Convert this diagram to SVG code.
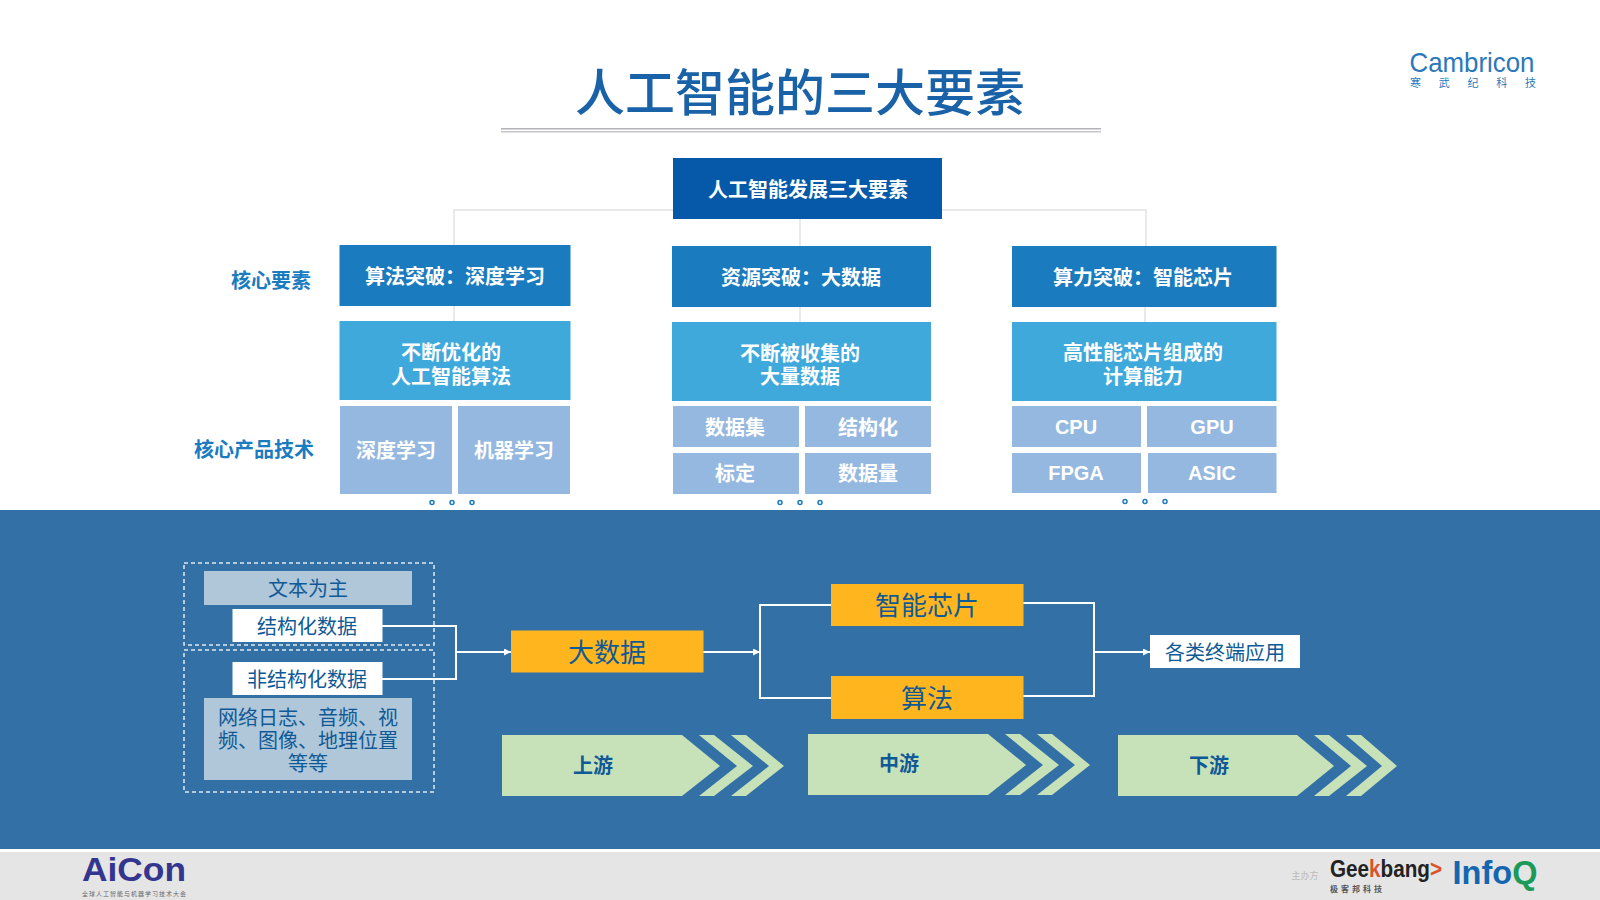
<svg xmlns="http://www.w3.org/2000/svg" width="1600" height="900" viewBox="0 0 1600 900">
<defs>
<style>
text{font-family:"Noto Sans CJK SC","Liberation Sans",sans-serif;text-anchor:middle}
text.lat{font-family:"Liberation Sans",Arial,sans-serif}
.w{fill:#fff;font-weight:700;font-size:20px}
.b1{fill:#1a7bbf}.b2{fill:#3fa9dc}.b3{fill:#95b8e0}
.side{fill:#1a7bbf;font-weight:700;font-size:20px}
.dot{fill:none;stroke:#1a7bbf;stroke-width:1.5}
.dash{fill:none;stroke:#dfe8f0;stroke-width:1.5;stroke-dasharray:4 3}
.pale{fill:#b0c7d9}.wh{fill:#fff}
.dk{fill:#0f5a96;font-size:20px}
.or{fill:#ffb61e}.ort{fill:#0f5a96;font-size:26px}
.gr{fill:#c7e2b9}.grt{fill:#0f5a96;font-size:20px;font-weight:700}
.tree{fill:none;stroke:#e2e2e2;stroke-width:1.5}
.flow{fill:none;stroke:#fff;stroke-width:2}
</style>
<marker id="arr" markerWidth="9" markerHeight="8" refX="7" refY="3.500" orient="auto" markerUnits="userSpaceOnUse"><path d="M0,0L7,3.500L0,7Z" fill="#fff"/></marker>
</defs>
<rect width="1600" height="900" fill="#fff"/>
<rect id="band" y="510" width="1600" height="339" fill="#3370a6"/>
<rect id="footer" y="852" width="1600" height="48" fill="#e5e5e5"/>

<g id="title">
<text x="800" y="111" font-size="50" fill="#1a62a8" font-weight="500">人工智能的三大要素</text>
<rect x="501" y="128" width="600" height="1.500" fill="#b4b4b8"/>
<rect x="501" y="131" width="600" height="1.500" fill="#c6c6ca"/>
</g>

<g id="logo-cambricon">
<text class="lat" x="1472" y="71.500" font-size="28" fill="#2a78bb" textLength="125" lengthAdjust="spacingAndGlyphs">Cambricon</text>
<text x="1473" y="87" font-size="11" fill="#2a78bb" textLength="126">寒武纪科技</text>
</g>

<g id="connectors">
<path class="tree" d="M454,245V210H1146V246M800,218V246M454,306V321M800,307V322M1145,307V322"/>
<path class="flow" d="M382,626H456V679H382"/>
<path class="flow" marker-end="url(#arr)" d="M456,652H511"/>
<path class="flow" marker-end="url(#arr)" d="M703,652H760"/>
<path class="flow" d="M831,605H760V698H831"/>
<path class="flow" d="M1023,603H1094V696H1023"/>
<path class="flow" marker-end="url(#arr)" d="M1094,652H1150"/>
</g>

<g id="root"><rect x="673" y="158" width="269" height="61" fill="#0559a8"/><text class="w" x="808" y="197">人工智能发展三大要素</text></g>

<g id="label-core"><text class="side" x="271" y="288">核心要素</text></g>
<g id="label-tech"><text class="side" x="254" y="457">核心产品技术</text></g>

<g id="n-alg"><rect class="b1" x="339.500" y="245" width="231" height="61"/><text class="w" x="455" y="284">算法突破：深度学习</text></g>
<g id="n-data"><rect class="b1" x="672" y="246" width="259" height="61"/><text class="w" x="801" y="285">资源突破：大数据</text></g>
<g id="n-chip"><rect class="b1" x="1012" y="246" width="264.500" height="61"/><text class="w" x="1143" y="285">算力突破：智能芯片</text></g>

<g id="n-alg2"><rect class="b2" x="339.500" y="321" width="231" height="79"/><text class="w" x="451" y="360">不断优化的</text><text class="w" x="451" y="384">人工智能算法</text></g>
<g id="n-data2"><rect class="b2" x="672" y="322" width="259" height="79"/><text class="w" x="800" y="361">不断被收集的</text><text class="w" x="800" y="384">大量数据</text></g>
<g id="n-chip2"><rect class="b2" x="1012" y="322" width="264.500" height="79"/><text class="w" x="1143" y="360">高性能芯片组成的</text><text class="w" x="1143" y="384">计算能力</text></g>

<g id="t-dl"><rect class="b3" x="340" y="406" width="112" height="88"/><text class="w" x="396" y="458">深度学习</text></g>
<g id="t-ml"><rect class="b3" x="458" y="406" width="112" height="88"/><text class="w" x="514" y="458">机器学习</text></g>
<g id="t-ds"><rect class="b3" x="673" y="406" width="126" height="41"/><text class="w" x="735" y="435">数据集</text></g>
<g id="t-st"><rect class="b3" x="805" y="406" width="126" height="41"/><text class="w" x="868" y="435">结构化</text></g>
<g id="t-lb"><rect class="b3" x="673" y="453" width="126" height="41"/><text class="w" x="735" y="481">标定</text></g>
<g id="t-vol"><rect class="b3" x="805" y="453" width="126" height="41"/><text class="w" x="868" y="481">数据量</text></g>
<g id="t-cpu"><rect class="b3" x="1012" y="406" width="129" height="41"/><text class="w lat" x="1076" y="434">CPU</text></g>
<g id="t-gpu"><rect class="b3" x="1147" y="406" width="129.500" height="41"/><text class="w lat" x="1212" y="434">GPU</text></g>
<g id="t-fpga"><rect class="b3" x="1012" y="453" width="129" height="40"/><text class="w lat" x="1076" y="480">FPGA</text></g>
<g id="t-asic"><rect class="b3" x="1148" y="453" width="128.500" height="40"/><text class="w lat" x="1212" y="480">ASIC</text></g>

<g id="dots">
<circle class="dot" cx="432" cy="502.500" r="2"/><circle class="dot" cx="452" cy="502.500" r="2"/><circle class="dot" cx="472" cy="502.500" r="2"/>
<circle class="dot" cx="780" cy="502.500" r="2"/><circle class="dot" cx="800" cy="502.500" r="2"/><circle class="dot" cx="820" cy="502.500" r="2"/>
<circle class="dot" cx="1125" cy="501.500" r="2"/><circle class="dot" cx="1145" cy="501.500" r="2"/><circle class="dot" cx="1165" cy="501.500" r="2"/>
</g>

<g id="group-structured"><rect class="dash" x="184" y="563" width="250" height="82"/></g>
<g id="group-unstructured"><rect class="dash" x="184" y="650" width="250" height="142"/></g>
<g id="n-text"><rect class="pale" x="204" y="571" width="208" height="34"/><text class="dk" x="308" y="596">文本为主</text></g>
<g id="n-struct"><rect class="wh" x="232.500" y="609" width="150" height="33"/><text class="dk" x="307" y="634">结构化数据</text></g>
<g id="n-unstruct"><rect class="wh" x="232.500" y="662" width="150" height="33"/><text class="dk" x="307" y="687">非结构化数据</text></g>
<g id="n-logs"><rect class="pale" x="204" y="698" width="208" height="82"/><text class="dk" x="308" y="725">网络日志、音频、视</text><text class="dk" x="308" y="748">频、图像、地理位置</text><text class="dk" x="308" y="771">等等</text></g>

<g id="n-bigdata"><rect class="or" x="511" y="630.500" width="192.500" height="42"/><text class="ort" x="607" y="662">大数据</text></g>
<g id="n-aichip"><rect class="or" x="831" y="584" width="192.500" height="42"/><text class="ort" x="927" y="615">智能芯片</text></g>
<g id="n-algo"><rect class="or" x="831" y="676" width="192.500" height="43"/><text class="ort" x="927" y="708">算法</text></g>
<g id="n-apps"><rect class="wh" x="1150" y="635" width="150" height="33"/><text class="dk" x="1225" y="660">各类终端应用</text></g>

<g id="up"><path class="gr" d="M502,735H682L720,766L682,796H502Z"/><path class="gr" d="M699,735H714L753,766L714,796H699L737,766Z"/><path class="gr" d="M731,735H746L784,766L746,796H731L769,766Z"/><text class="grt" x="593" y="773">上游</text></g>
<g id="mid" transform="translate(306,-1)"><path class="gr" d="M502,735H682L720,766L682,796H502Z"/><path class="gr" d="M699,735H714L753,766L714,796H699L737,766Z"/><path class="gr" d="M731,735H746L784,766L746,796H731L769,766Z"/><text class="grt" x="593" y="772">中游</text></g>
<g id="down" transform="translate(616,0)"><path class="gr" d="M502,735H681L718,766L681,796H502Z"/><path class="gr" d="M698,735H713L751,766L713,796H698L735,766Z"/><path class="gr" d="M730,735H745L781,766L745,796H730L766,766Z"/><text class="grt" x="593" y="773">下游</text></g>

<g id="logo-aicon">
<text class="lat" x="134" y="881" font-size="34" font-weight="700" fill="#33358f" textLength="104" lengthAdjust="spacingAndGlyphs">AiCon</text>
<text x="134" y="895.500" font-size="6" fill="#666" textLength="104">全球人工智能与机器学习技术大会</text>
</g>
<g id="logo-geek">
<text x="1305" y="879" font-size="9" fill="#bbb">主办方</text>
<text class="lat" transform="translate(1386 877) scale(.9 1)" font-size="23" font-weight="700" fill="#222">Gee<tspan fill="#d9542b">k</tspan>bang<tspan fill="#d9542b">&gt;</tspan></text>
<text x="1356" y="892" font-size="8" fill="#555" font-weight="700" textLength="52">极客邦科技</text>
</g>
<g id="logo-infoq">
<text class="lat" x="1495" y="884" font-size="32.500" font-weight="700"><tspan fill="#1566b0">Info</tspan><tspan fill="#1c9a58">Q</tspan></text>
</g>
</svg>
